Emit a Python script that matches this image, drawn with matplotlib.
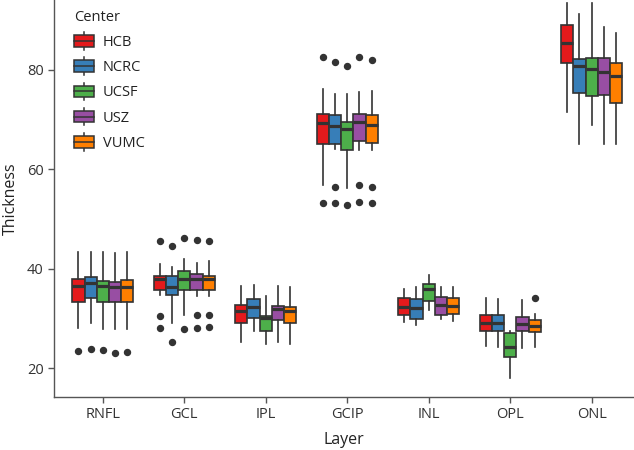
import matplotlib
matplotlib.use("Agg")
import matplotlib.pyplot as plt
from matplotlib.patches import Patch, Rectangle
from matplotlib.lines import Line2D
from matplotlib.legend_handler import HandlerBase

plt.rcParams['font.family'] = ['Open Sans', 'DejaVu Sans']

layers = ["RNFL", "GCL", "IPL", "GCIP", "INL", "OPL", "ONL"]
centers = ["HCB", "NCRC", "UCSF", "USZ", "VUMC"]
colors = ["#E41A1C", "#377EB8", "#4DAF4A", "#984EA3", "#FF7F00"]

# per layer, per center (HCB, NCRC, UCSF, USZ, VUMC)
whisker_low = [
    [28.0, 29.0, 27.8, 27.8, 27.8],
    [34.7, 29.1, 30.7, 34.5, 34.6],
    [25.2, 27.5, 24.8, 25.2, 24.8],
    [56.8, 64.1, 56.3, 63.8, 63.9],
    [29.3, 28.7, 31.6, 29.8, 29.5],
    [24.5, 24.3, 18.0, 24.0, 24.2],
    [71.5, 65.1, 68.9, 65.1, 65.1],
]
q1 = [
    [33.2, 34.0, 33.2, 33.2, 33.2],
    [35.8, 34.7, 35.8, 35.8, 35.8],
    [29.1, 30.0, 27.4, 29.6, 29.0],
    [65.2, 65.2, 63.8, 65.7, 65.4],
    [30.6, 29.9, 33.4, 30.6, 30.8],
    [27.5, 27.5, 22.2, 27.5, 27.3],
    [81.5, 75.4, 74.8, 75.0, 73.3],
]
median = [
    [36.5, 37.2, 36.6, 36.4, 36.3],
    [37.9, 36.4, 37.9, 37.9, 37.9],
    [31.5, 32.3, 30.1, 31.9, 31.4],
    [69.3, 68.8, 68.1, 69.5, 68.9],
    [32.3, 32.1, 36.0, 32.6, 32.4],
    [29.1, 29.1, 24.2, 28.8, 28.5],
    [85.5, 80.8, 80.3, 79.5, 78.7],
]
q3 = [
    [37.9, 38.3, 37.6, 37.3, 37.7],
    [38.6, 38.6, 39.5, 38.9, 38.5],
    [32.6, 33.9, 30.5, 32.5, 32.3],
    [71.2, 70.9, 69.5, 71.2, 70.9],
    [34.1, 33.8, 37.0, 34.4, 34.2],
    [30.6, 30.6, 27.1, 30.3, 29.7],
    [89.1, 82.2, 82.4, 82.5, 81.4],
]
whisker_high = [
    [43.3, 43.3, 43.3, 43.1, 43.4],
    [40.9, 40.4, 42.0, 41.1, 41.5],
    [36.5, 36.8, 34.6, 36.5, 36.4],
    [76.2, 75.2, 75.2, 75.5, 75.8],
    [36.0, 36.3, 38.7, 36.4, 36.4],
    [34.0, 33.9, 27.4, 33.7, 30.9],
    [93.4, 91.2, 93.4, 88.6, 87.4],
]
outliers = [
    [[23.5], [23.9], [23.6], [23.0], [23.2]],
    [[45.6, 30.4, 28.0], [44.6, 25.2], [46.1, 27.9], [45.8, 30.6, 28.0], [45.5, 30.7, 28.3]],
    [[], [], [], [], []],
    [[82.6, 53.2], [81.6, 56.5, 53.2], [80.9, 52.9], [82.6, 56.8, 53.4], [82.1, 56.4, 53.2]],
    [[], [], [], [], []],
    [[], [], [], [], [34.1]],
    [[], [], [], [], []],
]

edge = "#333333"
axis_col = "#555555"

fig = plt.figure(figsize=(6.34, 4.5), dpi=100)
ax = fig.add_axes([54 / 634, 53 / 450, 580 / 634, 397 / 450])

box_w = 0.15
for j, c in enumerate(centers):
    stats = []
    pos = []
    for i in range(len(layers)):
        stats.append(dict(whislo=whisker_low[i][j], q1=q1[i][j], med=median[i][j],
                          q3=q3[i][j], whishi=whisker_high[i][j], fliers=outliers[i][j]))
        pos.append(i + 1 + (j - 2) * box_w)
    ax.bxp(stats, positions=pos, widths=box_w, patch_artist=True, showcaps=False,
           boxprops=dict(facecolor=colors[j], edgecolor=edge, linewidth=1.2),
           medianprops=dict(color=edge, linewidth=2.3, solid_capstyle="butt"),
           whiskerprops=dict(color=edge, linewidth=1.2),
           flierprops=dict(marker="o", markerfacecolor=edge, markeredgecolor=edge,
                           markersize=4.3))

ax.set_xlim(0.4, 7.52)
ax.set_ylim(14.17, 94.09)
ax.set_xticks(range(1, len(layers) + 1))
ax.set_xticklabels(layers)
ax.set_yticks([20, 40, 60, 80])
for s in ["top", "right"]:
    ax.spines[s].set_visible(False)
for s in ["left", "bottom"]:
    ax.spines[s].set_color(axis_col)
    ax.spines[s].set_linewidth(1.0)
ax.tick_params(colors=axis_col, labelcolor="#333333", labelsize=10.5, length=4, width=1.0)
ax.set_xlabel("Layer", fontsize=11.5, color="#222222", labelpad=7)
ax.set_ylabel("Thickness", fontsize=11.5, color="#222222", labelpad=6)


class BoxHandler(HandlerBase):
    def create_artists(self, legend, orig_handle, xdescent, ydescent, width, height,
                       fontsize, trans):
        fc = orig_handle.get_facecolor()
        cx = -xdescent + width / 2
        y0 = -ydescent
        vline = Line2D([cx, cx], [y0 - 0.25 * height, y0 + 1.25 * height], color=edge,
                       linewidth=1.1, transform=trans)
        rect = Rectangle((-xdescent, y0), width, height, facecolor=fc, edgecolor=edge,
                         linewidth=1.1, transform=trans)
        mline = Line2D([-xdescent, -xdescent + width], [y0 + height / 2] * 2, color=edge,
                       linewidth=1.1, transform=trans)
        return [vline, rect, mline]


handles = [Patch(facecolor=col) for col in colors]
leg = ax.legend(handles, centers, title="Center", loc="upper left",
                bbox_to_anchor=(68 / 634, 1 - 4 / 450), bbox_transform=fig.transFigure,
                frameon=False, fontsize=10.5, title_fontsize=10.5,
                handler_map={Patch: BoxHandler()}, handlelength=1.4, handleheight=0.85,
                labelspacing=0.7, handletextpad=0.6, borderaxespad=0)
leg._legend_box.align = "left"
for t in leg.get_texts():
    t.set_color("#222222")
leg.get_title().set_color("#222222")

fig.savefig("out.png", dpi=100)
